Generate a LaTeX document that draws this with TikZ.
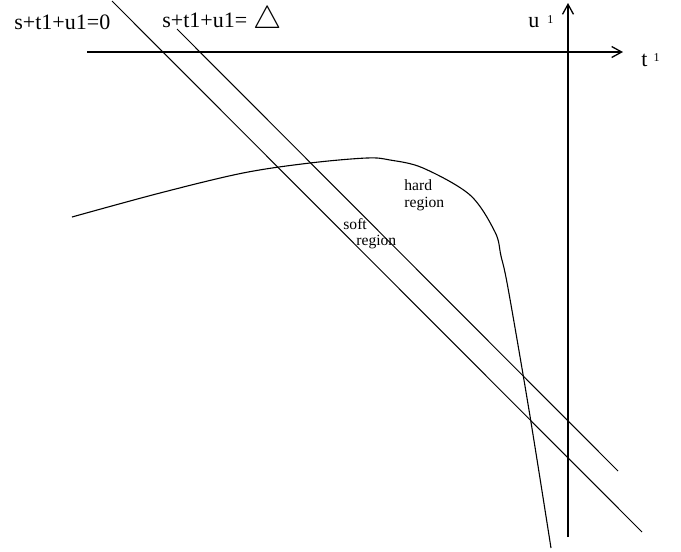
\documentclass[tikz,border=0pt]{standalone}
\usepackage{fontspec}
\setmainfont{Liberation Serif}
\usetikzlibrary{arrows.meta, positioning}
\tikzstyle{axis} = [line width=0.65pt, -{Straight Barb[length=5pt,width=5.5pt]}]
\tikzstyle{line} = [line width=0.5pt]
\tikzstyle{curve} = [line width=0.55pt]
\tikzstyle{biglabel} = [inner sep=0pt, anchor=base west, font=\fontsize{11}{13}\selectfont]
\tikzstyle{smalllabel} = [inner sep=0pt, anchor=base west, font=\fontsize{7.8}{8.5}\selectfont, align=left]

\begin{document}
\begin{tikzpicture}[x=0.5pt,y=-0.5pt]
\useasboundingbox (0,0) rectangle (681,552);

% Axes
\coordinate (tstart) at (87,52);
\coordinate (tend) at (623,52);
\coordinate (ustart) at (568,537);
\coordinate (uend) at (568,3);
\draw [axis] (tstart) -- (tend);
\draw [axis] (ustart) -- (uend);
\node (ulabel) [biglabel] at (528,27) {u\hspace{4pt}\raisebox{2pt}{\fontsize{6}{7}\selectfont 1}};
\node (tlabel) [biglabel] at (641,66) {t\hspace{3pt}\raisebox{2.5pt}{\fontsize{6}{7}\selectfont 1}};

% Lines s+t1+u1 = const
\coordinate (zeroA) at (112,1);
\coordinate (zeroB) at (642,532);
\coordinate (deltaA) at (177,29);
\coordinate (deltaB) at (618,471);
\draw [line] (zeroA) -- (zeroB);
\draw [line] (deltaA) -- (deltaB);
\node (zerolabel) [biglabel] at (14,29) {s+t1+u1=0};
\node (deltalabel) [biglabel] at (162,27) {s+t1+u1=\hspace{3pt}\raisebox{-0.5pt}{\scalebox{1.45}{$\bigtriangleup$}}};

% Boundary curve
\draw [curve] plot [smooth, tension=0.55] coordinates {(72,217) (160,193) (243,173) (310,163) (367,158) (390,160) (423,168) (470,195) (495,232) (501,256) (508,288) (529,410) (551,548)};

% Regions
\node (soft) [smalllabel] at (343,229) {soft};
\node (softb) [smalllabel] at (356,245) {region};
\node (hard) [smalllabel] at (404,207) {hard\\region};
\end{tikzpicture}
\end{document}
